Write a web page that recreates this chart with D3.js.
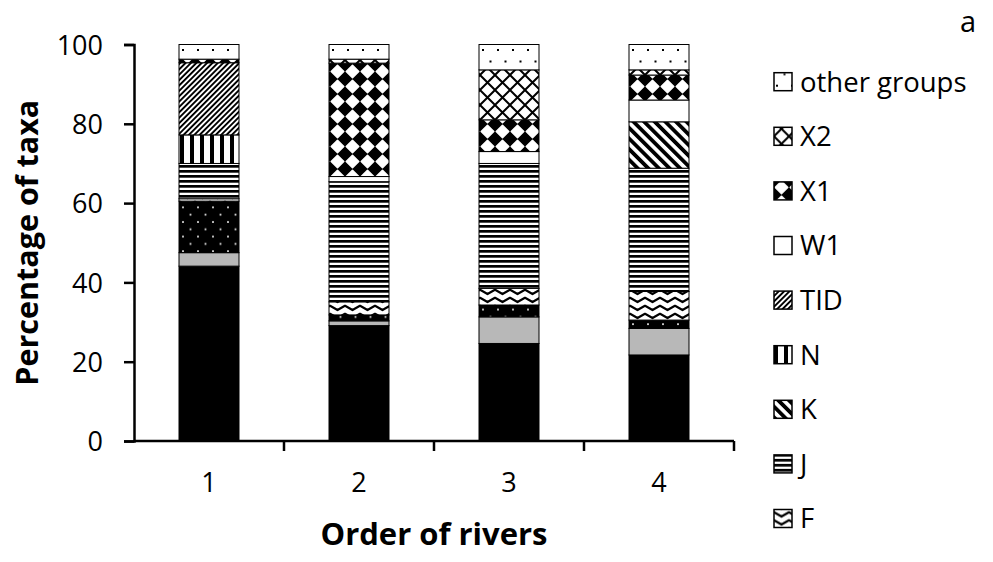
<!DOCTYPE html>
<html>
<head>
<meta charset="utf-8">
<script src="https://cdn.jsdelivr.net/npm/d3@7"></script>
<style>
  body { margin: 0; background: #fff; }
  text { font-family: "Open Sans", sans-serif; fill: #000; }
</style>
</head>
<body>
<div id="chart"></div>
<script>
// rivers of order 1..4
var rivers = ["1", "2", "3", "4"];

// groups from bottom to top of each bar
var groups = ["A", "B", "C", "F", "J", "K", "N", "TID", "W1", "X1", "X2", "other groups"];

// percentages of taxa per group (one value per river order)
var A     = [44.1, 29.1, 24.6, 21.7];
var B     = [3.4, 1.2, 6.7, 6.7];
var C     = [13.0, 1.5, 3.0, 2.1];
var F     = [0.6, 3.3, 4.2, 7.2];
var J     = [8.9, 30.3, 31.5, 31.1];
var K     = [0, 0, 0, 11.7];
var N     = [7.2, 0, 0, 0];
var TID   = [18.2, 0, 0, 0];
var W1    = [0, 1.3, 3.0, 5.5];
var X1    = [0.9, 28.6, 8.0, 6.3];
var X2    = [0, 1.0, 12.6, 1.3];
var other = [3.7, 3.7, 6.4, 6.4];

var yTicks = [0, 20, 40, 60, 80, 100];
var legendItems = ["other groups", "X2", "X1", "W1", "TID", "N", "K", "J", "F"];

var values = { "A": A, "B": B, "C": C, "F": F, "J": J, "K": K, "N": N, "TID": TID,
               "W1": W1, "X1": X1, "X2": X2, "other groups": other };

var table = rivers.map(function(r, i) {
    var row = { river: r };
    groups.forEach(function(g) { row[g] = values[g][i]; });
    return row;
});

var width = 993, height = 562;
var margin = { top: 44.5, left: 134, right: 259, bottom: 121 };

var svg = d3.select("#chart").append("svg")
    .attr("width", width)
    .attr("height", height);

// ---- fill patterns ----
var defs = svg.append("defs");

function pat(id, w, h, transform) {
    var p = defs.append("pattern")
        .attr("id", id)
        .attr("patternUnits", "userSpaceOnUse")
        .attr("width", w)
        .attr("height", h);
    if (transform) p.attr("patternTransform", transform);
    return p;
}

// other groups: sparse black dots on white
var pOther = pat("p-other", 15, 23);
pOther.append("rect").attr("width", 15).attr("height", 23).attr("fill", "#fff");
[[3, 4], [10.5, 15.5]].forEach(function(d) {
    pOther.append("rect").attr("x", d[0] - 1).attr("y", d[1] - 1).attr("width", 2).attr("height", 2).attr("fill", "#000");
});

// C: white dots on black
var pC = pat("p-c", 15, 14.6);
pC.append("rect").attr("width", 15).attr("height", 14.6).attr("fill", "#000");
[[3, 3], [10.5, 10.3]].forEach(function(d) {
    pC.append("rect").attr("x", d[0] - 0.9).attr("y", d[1] - 0.9).attr("width", 1.8).attr("height", 1.8).attr("fill", "#ddd");
});

// X2: outlined diamond lattice
var pX2 = pat("p-x2", 15, 15);
pX2.append("rect").attr("width", 15).attr("height", 15).attr("fill", "#fff");
pX2.append("path").attr("d", "M0,0L15,15M15,0L0,15M-1,14L1,16M14,-1L16,1")
    .attr("stroke", "#000").attr("stroke-width", 2);

// X1: solid diamonds (black diamonds touching at the tips, white rounded holes)
var pX1 = pat("p-x1", 15, 15, "translate(0,4)");
pX1.append("rect").attr("width", 15).attr("height", 15).attr("fill", "#000");
pX1.append("path")
    .attr("d", "M7.5,1.2L13.8,7.5L7.5,13.8L1.2,7.5Z")
    .attr("fill", "#fff")
    .attr("stroke", "#fff")
    .attr("stroke-width", 1.5)
    .attr("stroke-linejoin", "round");

// TID: dark upward diagonal
var pTID = pat("p-tid", 3.8, 3.8, "rotate(45)");
pTID.append("rect").attr("width", 3.8).attr("height", 3.8).attr("fill", "#fff");
pTID.append("rect").attr("width", 1.9).attr("height", 3.8).attr("fill", "#000");

// K: wide downward diagonal
var pK = pat("p-k", 7.5, 7.5, "rotate(-45)");
pK.append("rect").attr("width", 7.5).attr("height", 7.5).attr("fill", "#fff");
pK.append("rect").attr("width", 3.8).attr("height", 7.5).attr("fill", "#000");

// N: wide vertical stripes
var pN = pat("p-n", 10, 10);
pN.append("rect").attr("width", 10).attr("height", 10).attr("fill", "#fff");
pN.append("rect").attr("width", 4).attr("height", 10).attr("fill", "#000");

// J: horizontal lines
var pJ = pat("p-j", 5, 5);
pJ.append("rect").attr("width", 5).attr("height", 5).attr("fill", "#fff");
pJ.append("rect").attr("width", 5).attr("height", 2.7).attr("fill", "#000");

// F: wave
var pF = pat("p-f", 15, 8);
pF.append("rect").attr("width", 15).attr("height", 8).attr("fill", "#fff");
pF.append("path").attr("d", "M-7.5,6L0,1.8L7.5,6L15,1.8L22.5,6")
    .attr("fill", "none").attr("stroke", "#000").attr("stroke-width", 2.3)
    .attr("stroke-linejoin", "round");

var fills = {
    "A": "#000",
    "B": "#b8b8b8",
    "C": "url(#p-c)",
    "F": "url(#p-f)",
    "J": "url(#p-j)",
    "K": "url(#p-k)",
    "N": "url(#p-n)",
    "TID": "url(#p-tid)",
    "W1": "#fff",
    "X1": "url(#p-x1)",
    "X2": "url(#p-x2)",
    "other groups": "url(#p-other)"
};

// ---- scales ----
var x = d3.scaleBand()
    .domain(rivers)
    .range([margin.left, width - margin.right])
    .paddingInner(0.6)
    .paddingOuter(0.3);

var y = d3.scaleLinear()
    .domain([0, 100])
    .range([height - margin.bottom, margin.top]);

var stacked = d3.stack().keys(groups)(table);

// ---- bars ----
var layer = svg.append("g").selectAll("g")
    .data(stacked)
  .enter().append("g")
    .attr("fill", function(d) { return fills[d.key]; });

layer.selectAll("rect")
    .data(function(d) { return d.filter(function(s) { return s[1] - s[0] > 0; }); })
  .enter().append("rect")
    .attr("x", function(d) { return x(d.data.river); })
    .attr("y", function(d) { return y(d[1]); })
    .attr("width", x.bandwidth())
    .attr("height", function(d) { return y(d[0]) - y(d[1]); })
    .attr("stroke", "#000")
    .attr("stroke-width", 1);

// ---- axes ----
var yAxis = svg.append("g")
    .attr("transform", "translate(" + margin.left + ",0)")
    .call(d3.axisLeft(y).tickValues(yTicks).tickSize(10).tickPadding(21));
yAxis.select(".domain").attr("stroke-width", 2.5);
yAxis.selectAll(".tick line").attr("stroke-width", 2.5);
yAxis.selectAll("text").style("font-size", "27px").attr("dy", "0.36em");

// x axis with tick marks between categories
var xAxisG = svg.append("g");
xAxisG.append("line")
    .attr("x1", margin.left).attr("x2", width - margin.right)
    .attr("y1", y(0)).attr("y2", y(0))
    .attr("stroke", "#000").attr("stroke-width", 2.5);
xAxisG.selectAll("line.tk")
    .data(rivers)
  .enter().append("line")
    .attr("class", "tk")
    .attr("x1", function(d) { return x(d) + x.bandwidth() / 2 + x.step() / 2; })
    .attr("x2", function(d) { return x(d) + x.bandwidth() / 2 + x.step() / 2; })
    .attr("y1", y(0)).attr("y2", y(0) + 10)
    .attr("stroke", "#000").attr("stroke-width", 2.5);
xAxisG.selectAll("text")
    .data(rivers)
  .enter().append("text")
    .attr("x", function(d) { return x(d) + x.bandwidth() / 2; })
    .attr("y", y(0) + 51)
    .attr("text-anchor", "middle")
    .style("font-size", "27px")
    .text(function(d) { return d; });

// axis titles
svg.append("text")
    .attr("text-anchor", "middle")
    .attr("transform", "translate(38," + (margin.top + (y(0) - margin.top) / 2) + ")rotate(-90)")
    .style("font-size", "30.5px")
    .style("font-weight", "bold")
    .text("Percentage of taxa");

svg.append("text")
    .attr("text-anchor", "middle")
    .attr("x", (margin.left + width - margin.right) / 2)
    .attr("y", 545)
    .style("font-size", "31px")
    .style("font-weight", "bold")
    .text("Order of rivers");

svg.append("text")
    .attr("x", 960)
    .attr("y", 32)
    .style("font-size", "29px")
    .text("a");

// ---- legend ----
var legend = svg.append("g").selectAll("g")
    .data(legendItems)
  .enter().append("g")
    .attr("transform", function(d, i) { return "translate(774," + (81.7 + i * 54.6) + ")"; });

legend.append("rect")
    .attr("x", 0).attr("y", -9)
    .attr("width", 18).attr("height", 18)
    .attr("fill", function(d) { return fills[d]; })
    .attr("stroke", "#000")
    .attr("stroke-width", 1.5);

legend.append("text")
    .attr("x", 26)
    .attr("y", 0)
    .attr("dy", "0.36em")
    .style("font-size", "27.5px")
    .text(function(d) { return d; });
</script>
</body>
</html>
